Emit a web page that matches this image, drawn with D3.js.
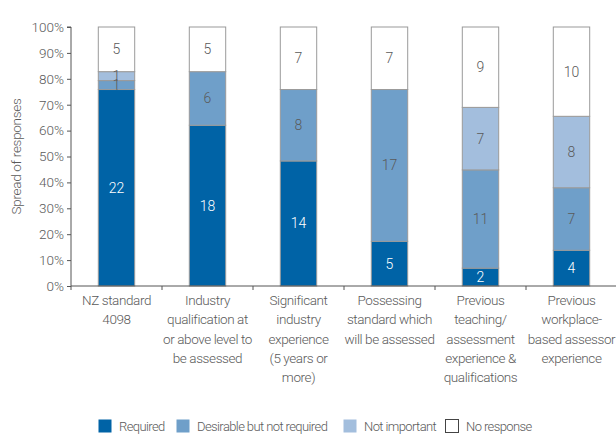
<!DOCTYPE html>
<html>
<head>
<meta charset="utf-8">
<script src="https://cdn.jsdelivr.net/npm/d3@7"></script>
<style>
  html, body { margin: 0; padding: 0; background: #fff; }
  svg { display: block; font-family: Roboto, "Liberation Sans", sans-serif; font-weight: 300; }
</style>
</head>
<body>
<svg id="chart" width="616" height="435"></svg>
<script>
// Criteria for assessors, counted responses per category
const categories = [
  ["NZ standard", "4098"],
  ["Industry", "qualification at", "or above level to", "be assessed"],
  ["Significant", "industry", "experience", "(5 years or", "more)"],
  ["Possessing", "standard which", "will be assessed"],
  ["Previous", "teaching/", "assessment", "experience &", "qualifications"],
  ["Previous", "workplace-", "based assessor", "experience"]
];
const seriesNames = ["Required", "Desirable but not required", "Not important", "No response"];
const required     = [22, 18, 14, 5, 2, 4];
const desirable    = [1, 6, 8, 17, 11, 7];
const notImportant = [1, 0, 0, 0, 7, 8];
const noResponse   = [5, 5, 7, 7, 9, 10];
const yTicks = [0, 0.1, 0.2, 0.3, 0.4, 0.5, 0.6, 0.7, 0.8, 0.9, 1.0];

const colors = ["#0063a6", "#6f9fc9", "#a3bedd", "#ffffff"];
const labelColors = ["#ffffff", "#5a5a5a", "#5a5a5a", "#5a5a5a"];
const textGray = "#5a5a5a";

const svg = d3.select("#chart");
const chartW = 616;
const plotLeft = 71, plotTop = 27, plotBottom = 286, bandStep = 91;

const x = d3.scaleBand()
  .domain(d3.range(categories.length))
  .range([plotLeft, plotLeft + bandStep * categories.length])
  .paddingInner(0.6).paddingOuter(0.3);
const y = d3.scaleLinear().domain([0, 1]).range([plotBottom, plotTop]);

// stacked proportions
const rows = categories.map((c, i) => ({
  s0: required[i], s1: desirable[i], s2: notImportant[i], s3: noResponse[i]
}));
const keys = ["s0", "s1", "s2", "s3"];
const layers = d3.stack().keys(keys).offset(d3.stackOffsetExpand)(rows);

const g = svg.append("g");

layers.forEach((layer, li) => {
  layer.forEach((d, i) => {
    if (d.data[keys[li]] === 0) return;
    g.append("rect")
      .attr("x", x(i))
      .attr("width", x.bandwidth())
      .attr("y", y(d[1]))
      .attr("height", y(d[0]) - y(d[1]))
      .attr("fill", colors[li])
      .attr("stroke", "#9a9a9a")
      .attr("stroke-width", 1);
  });
});

// value labels in the middle of each segment
layers.forEach((layer, li) => {
  layer.forEach((d, i) => {
    const v = d.data[keys[li]];
    if (v === 0) return;
    g.append("text")
      .attr("x", x(i) + x.bandwidth() / 2)
      .attr("y", (y(d[0]) + y(d[1])) / 2)
      .attr("dy", "0.35em")
      .attr("text-anchor", "middle")
      .attr("font-size", 14)
      .attr("fill", labelColors[li])
      .text(v);
  });
});

// y axis
const yAxis = d3.axisLeft(y).tickValues(yTicks).tickFormat(d3.format(".0%")).tickSize(4).tickPadding(3);
const ya = svg.append("g").attr("transform", `translate(${plotLeft},0)`).call(yAxis);
ya.select(".domain").attr("stroke", "#555").attr("d", `M-4,${y(1)}H0V${plotBottom}`);
ya.selectAll(".tick line").attr("stroke", "#555");
ya.selectAll(".tick text").attr("fill", textGray).attr("font-size", 13.5)
  .attr("font-family", "Roboto, sans-serif").attr("font-weight", 300);

// x baseline and category dividers
const xa = svg.append("g");
xa.append("line").attr("x1", plotLeft).attr("x2", chartW).attr("y1", plotBottom).attr("y2", plotBottom)
  .attr("stroke", "#555");
d3.range(categories.length + 1).forEach(i => {
  const px = x(0) - x.step() * x.paddingOuter() + i * x.step();
  xa.append("line").attr("x1", px).attr("x2", px).attr("y1", plotBottom).attr("y2", plotBottom + 4)
    .attr("stroke", "#555");
});

// category labels
categories.forEach((lines, i) => {
  const t = svg.append("text")
    .attr("text-anchor", "middle")
    .attr("font-size", 13.5)
    .attr("fill", textGray)
    .attr("letter-spacing", -0.4);
  lines.forEach((ln, j) => {
    t.append("tspan")
      .attr("x", x(i) + x.bandwidth() / 2)
      .attr("y", 305 + j * 19.3)
      .text(ln);
  });
});

// y axis title
svg.append("text")
  .attr("transform", `translate(21,${(y(1) + plotBottom) / 2}) rotate(-90)`)
  .attr("text-anchor", "middle")
  .attr("font-size", 13.5)
  .attr("fill", textGray)
  .attr("letter-spacing", -0.3)
  .text("Spread of responses");

// legend
const legendX = [98, 176, 343, 445];
seriesNames.forEach((name, i) => {
  const lg = svg.append("g").attr("transform", `translate(${legendX[i]},419)`);
  lg.append("rect").attr("x", 0.5).attr("y", 0.5).attr("width", 13).attr("height", 13)
    .attr("fill", colors[i]).attr("stroke", i === 3 ? "#444" : "none").attr("stroke-width", 1);
  lg.append("text").attr("x", 21).attr("y", 7).attr("dy", "0.35em")
    .attr("font-size", 13).attr("fill", textGray).attr("letter-spacing", -0.6).text(name);
});
</script>
</body>
</html>
